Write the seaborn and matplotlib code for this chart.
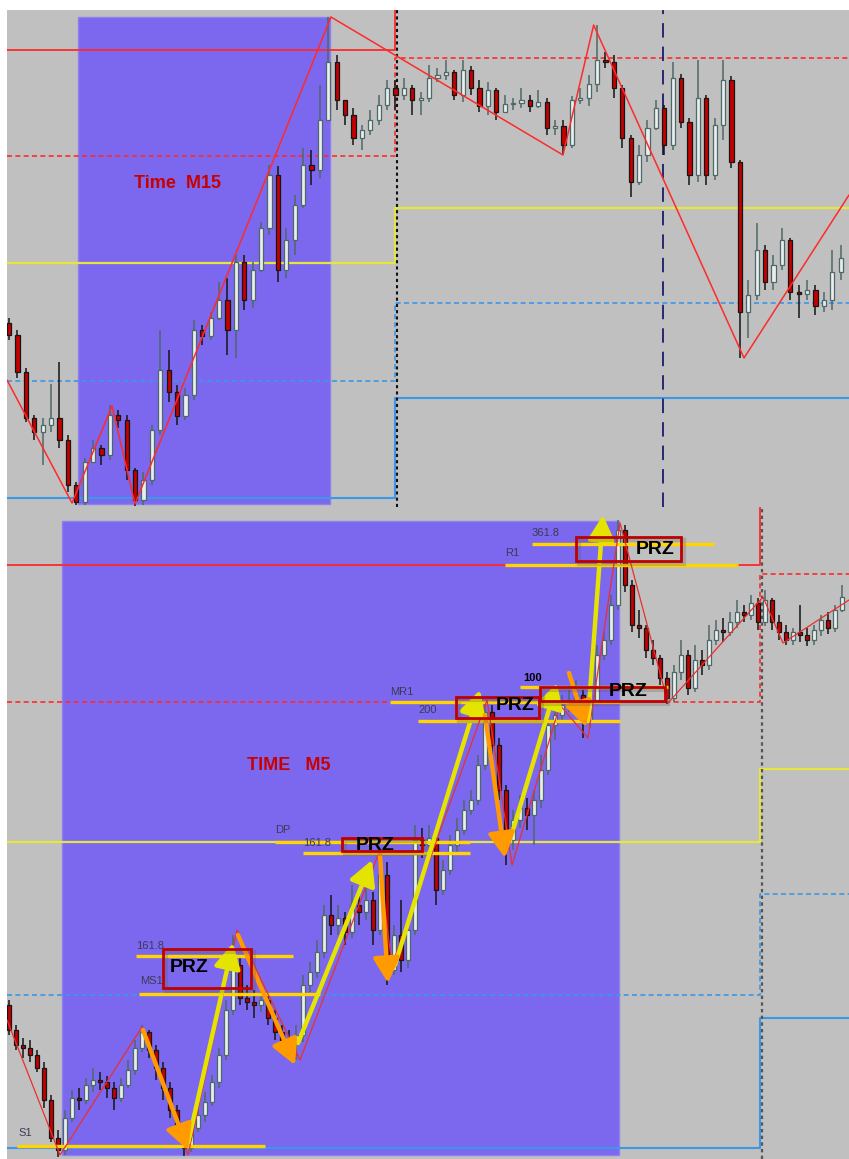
import numpy as np
import pandas as pd
import matplotlib
matplotlib.use("Agg")
import matplotlib.pyplot as plt
from matplotlib.patches import Rectangle
import seaborn as sns

# === COLORS ===
BG = "#c0c0c0"
ZONE = "#7b68ee"
BULL_FILL, BULL_EDGE = "#e9eded", "#4e6868"
BEAR_FILL, BEAR_EDGE = "#c40000", "#151515"
RED = "#ff2a2a"
BLUE = "#3b97ea"
PIVOT_YELLOW = "#e6e640"
FIB_YELLOW = "#ffd400"
ARROW_YELLOW = "#e4e400"
ARROW_ORANGE = "#ff9a00"
BOX_RED = "#c00000"
LABEL = "#3a3a55"

# === TOP PANEL (M15) : candles as (close, high, low), open = previous close ===
top_first_open = 187
top_candles = [
    (175, 192, 170), (138, 180, 132), (92, 142, 88), (78, 95, 70), (85, 92, 45), (92, 126, 78), (70, 148, 62), (25, 75, 18), (8, 28, 5), (48, 52, 5),
    (62, 70, 48), (55, 65, 45), (95, 105, 50), (90, 100, 82), (40, 95, 30), (10, 42, 4), (30, 38, 5), (80, 85, 25), (140, 180, 75), (118, 160, 108),
    (94, 125, 85), (115, 122, 90), (180, 190, 110), (174, 185, 165), (192, 198, 170), (210, 228, 190), (180, 232, 155), (248, 255, 152), (210, 255, 200), (240, 248, 202),
    (282, 288, 238), (335, 345, 275), (240, 344, 228), (270, 282, 232), (305, 315, 255), (345, 362, 302), (340, 360, 325), (390, 425, 332), (448, 493, 390), (410, 455, 400),
    (395, 410, 385), (372, 402, 365), (380, 385, 360), (390, 400, 375), (405, 415, 385), (422, 430, 400), (415, 430, 400), (422, 432, 410), (410, 425, 395), (412, 418, 395),
    (432, 445, 408), (435, 442, 428), (438, 450, 430), (415, 440, 410), (440, 450, 408), (422, 444, 415), (404, 430, 398), (420, 428, 395), (398, 422, 390), (406, 415, 398),
    (407, 412, 400), (410, 422, 402), (404, 415, 398), (408, 420, 402), (382, 412, 375), (384, 390, 375), (365, 390, 355), (410, 414, 362), (412, 422, 406), (426, 435, 404),
    (450, 485, 418), (448, 458, 442), (422, 455, 412), (372, 425, 362), (328, 375, 313), (355, 365, 325), (382, 390, 348), (402, 410, 380), (365, 405, 355), (432, 448, 360),
    (388, 436, 382), (335, 392, 325), (412, 450, 328), (335, 415, 325), (385, 392, 330), (430, 450, 370), (348, 434, 342), (198, 350, 152), (215, 230, 172), (260, 287, 210),
    (228, 265, 220), (245, 255, 220), (270, 282, 240), (218, 272, 210), (216, 225, 192), (220, 230, 210), (204, 225, 195), (210, 218, 198), (238, 260, 200), (252, 265, 230),
]
top_zz_bar = [-0.24, 7.5, 12.26, 15.0, 38.33, 65.95, 69.6, 87.5, 100.0]
top_zz_price = [130, 7, 104, 6, 493, 355, 485, 152, 315]

# pivot levels: previous day (left) / current day (right)
top_level_left = [460.5, 354, 247, 129, 12]
top_level_right = [520, 452, 302, 207, 112]
top_day_break = 45.9
top_zone = (8.21, 38.21, 6, 493)      # bar from, bar to, price low, price high
top_period_sep = 46.19
top_session_sep = 77.86

# === BOTTOM PANEL (M5) ===
bot_first_open = 155
bot_candles = [
    (130, 160, 125), (115, 135, 110), (112, 122, 102), (105, 120, 98), (92, 110, 88), (60, 98, 52), (22, 65, 18), (10, 30, 3), (42, 50, 5), (62, 70, 38),
    (60, 72, 50), (75, 82, 56), (80, 92, 68), (78, 88, 70), (72, 84, 62), (62, 78, 50), (75, 82, 58), (90, 100, 72), (112, 120, 85), (128, 135, 108),
    (110, 130, 102), (92, 115, 80), (72, 98, 60), (50, 78, 42), (32, 55, 22), (12, 35, 4), (32, 40, 8), (45, 60, 28), (58, 68, 38), (78, 85, 54),
    (105, 112, 72), (150, 160, 100), (195, 225, 145), (162, 202, 155), (158, 175, 150), (155, 170, 142), (160, 180, 148), (142, 165, 135), (128, 150, 120), (120, 135, 112),
    (117, 130, 110), (125, 135, 100), (175, 185, 118), (188, 198, 168), (208, 220, 182), (245, 255, 202), (235, 265, 225), (242, 255, 225), (228, 248, 215), (255, 275, 222),
    (248, 270, 235), (260, 280, 240), (230, 268, 215), (285, 302, 225), (190, 298, 175), (225, 235, 185), (200, 260, 188), (230, 240, 192), (320, 335, 225), (315, 332, 302),
    (322, 335, 308), (270, 328, 255), (290, 300, 265), (315, 325, 285), (330, 342, 308), (350, 360, 325), (360, 370, 345), (395, 405, 355), (448, 460, 390), (415, 455, 405),
    (370, 422, 360), (320, 375, 295), (340, 350, 310), (352, 365, 332), (345, 362, 330), (360, 370, 315), (390, 405, 352), (435, 445, 385), (445, 455, 420), (455, 465, 438),
    (460, 470, 448), (465, 480, 452), (440, 470, 422), (460, 470, 432), (505, 515, 455), (520, 528, 500), (555, 565, 515), (630, 640, 550), (575, 635, 568), (535, 580, 528),
    (532, 550, 522), (510, 535, 502), (502, 520, 495), (482, 505, 475), (462, 488, 456), (488, 495, 458), (505, 520, 480), (472, 510, 465), (500, 515, 468), (495, 510, 485),
    (520, 535, 490), (530, 540, 515), (528, 542, 518), (538, 548, 524), (548, 560, 532), (545, 555, 538), (557, 565, 540), (538, 562, 530), (560, 570, 534), (538, 562, 530),
    (528, 545, 520), (520, 535, 515), (528, 532, 515), (525, 555, 518), (520, 532, 514), (530, 535, 515), (540, 545, 524), (532, 548, 526), (550, 555, 528), (563, 575, 548),
]
bot_zz_bar = [-0.29, 7.29, 19.0, 25.57, 32.57, 41.57, 52.71, 54.71, 68.29, 71.86, 78.7, 82.71, 87.29, 94.14, 107.71, 110.57, 120.0]
bot_zz_price = [140, 5, 133, 5, 230, 100, 305, 195, 460, 295, 455, 422, 637, 457, 563, 517, 560]

bot_level_left = [595.5, 458, 318, 165, 12]
bot_level_right = [700, 586, 391, 266, 142]
bot_day_break = 107.3
bot_zone = (7.57, 87.14, 5, 639)
bot_period_sep = 107.57

fib_label = ["361.8", "R1", "100", "MR1", "200", "DP", "161.8", "161.8", "MS1", "S1"]
fib_price = [616.5, 595.5, 473, 458, 439, 318, 307, 204, 166, 14]
fib_from = [74.71, 70.86, 73.0, 54.43, 58.43, 38.0, 42.0, 18.14, 18.57, 1.14]
fib_to = [100.71, 104.14, 94.14, 87.29, 87.29, 65.86, 65.86, 40.57, 44.43, 36.57]
fib_label_bar = [74.71, 70.86, 73.43, 54.43, 58.43, 38.0, 42.0, 18.14, 18.71, 1.29]
fib_label_price = [627, 607, 482, 468, 450, 330, 317, 214, 179, 27]

prz_from = [22.0, 47.57, 63.86, 75.86, 81.0]
prz_to = [34.57, 59.0, 75.71, 93.71, 96.0]
prz_low = [172, 309, 442, 459, 599]
prz_high = [211, 322, 463, 473, 623]
prz_text_bar = [25.71, 52.29, 72.29, 88.43, 92.29]
prz_text_price = [192, 314, 454, 468, 610]

up_from_bar = [25.57, 41.29, 55.14, 71.57, 82.71]
up_from_price = [17, 117, 195, 320, 440]
up_to_bar = [32.0, 51.86, 67.29, 78.29, 84.86]
up_to_price = [217, 300, 470, 477, 645]
down_from_bar = [19.14, 32.71, 53.0, 68.0, 80.0]
down_from_price = [130, 225, 305, 445, 487]
down_to_bar = [25.57, 40.86, 54.14, 70.86, 82.43]
down_to_price = [10, 95, 177, 302, 433]


def to_frame(first_open, rows):
    df = pd.DataFrame(rows, columns=["close", "high", "low"])
    df["open"] = [first_open] + df["close"].tolist()[:-1]
    df["high"] = df[["high", "open", "close"]].max(axis=1)
    df["low"] = df[["low", "open", "close"]].min(axis=1)
    df["bar"] = np.arange(len(df))
    return df


def draw_candles(ax, df, width):
    up = df[df.close >= df.open]
    dn = df[df.close < df.open]
    ax.vlines(up.bar, up.low, up.high, color=BULL_EDGE, lw=1.1, zorder=3)
    ax.vlines(dn.bar, dn.low, dn.high, color=BEAR_EDGE, lw=1.1, zorder=3)
    ax.bar(up.bar, (up.close - up.open).clip(lower=1.5), bottom=up.open, width=width,
           color=BULL_FILL, edgecolor=BULL_EDGE, linewidth=0.9, zorder=3.1)
    ax.bar(dn.bar, (dn.open - dn.close).clip(lower=1.5), bottom=dn.close, width=width,
           color=BEAR_FILL, edgecolor=BEAR_EDGE, linewidth=0.9, zorder=3.1)


def draw_levels(ax, left, right, brk, x0, x1):
    styles = [
        dict(color=RED, lw=1.3, ls="-"),
        dict(color=RED, lw=1.2, ls=(0, (3, 2))),
        dict(color=PIVOT_YELLOW, lw=1.6, ls="-"),
        dict(color=BLUE, lw=1.2, ls=(0, (3, 2))),
        dict(color=BLUE, lw=1.5, ls="-"),
    ]
    for lv_l, lv_r, st in zip(left, right, styles):
        ax.plot([x0, brk, brk, x1], [lv_l, lv_l, lv_r, lv_r], zorder=2, **st)


def style_axis(ax, xlim, ylim):
    ax.set_facecolor(BG)
    ax.set_xlim(*xlim)
    ax.set_ylim(*ylim)
    ax.set_xticks([])
    ax.set_yticks([])
    for s in ax.spines.values():
        s.set_visible(False)


sns.set_style("white")
plt.rcParams["font.family"] = ["Liberation Sans", "DejaVu Sans"]

W, H = 849, 1159
fig = plt.figure(figsize=(W / 100, H / 100), dpi=100, facecolor="white")
ax_top = fig.add_axes([7 / W, (H - 507) / H, 842 / W, 497 / H])
ax_bot = fig.add_axes([7 / W, 0, 842 / W, 652 / H])

# === TOP PANEL ===
top = to_frame(top_first_open, top_candles)
TOP_X = (-0.24, 100.0)
style_axis(ax_top, TOP_X, (3, 500))
z0, z1, zl, zh = top_zone
ax_top.add_patch(Rectangle((z0, zl), z1 - z0, zh - zl, facecolor=ZONE,
                           edgecolor="#8d80f0", lw=1, zorder=0.5))
draw_levels(ax_top, top_level_left, top_level_right, top_day_break, *TOP_X)
ax_top.axvline(top_period_sep, color="#111111", lw=1.5, ls=(0, (1.5, 1.5)), zorder=2.5)
ax_top.axvline(top_session_sep, color="#1c1c6a", lw=1.3, ls=(0, (8, 5)), zorder=2.5)
draw_candles(ax_top, top, 0.5)
sns.lineplot(x=top_zz_bar, y=top_zz_price, ax=ax_top, sort=False, estimator=None,
             color=RED, linewidth=1.1, zorder=5)
ax_top.text(20, 327, "Time  M15", color="#c80000", fontsize=13, fontweight="bold",
            ha="center", va="center", zorder=8)

# === BOTTOM PANEL ===
bot = to_frame(bot_first_open, bot_candles)
BOT_X = (-0.29, 120.0)
style_axis(ax_bot, BOT_X, (1, 653))
z0, z1, zl, zh = bot_zone
ax_bot.add_patch(Rectangle((z0, zl), z1 - z0, zh - zl, facecolor=ZONE,
                           edgecolor="#8d80f0", lw=1, zorder=0.5))
draw_levels(ax_bot, bot_level_left, bot_level_right, bot_day_break, *BOT_X)
ax_bot.axvline(bot_period_sep, color="#555555", lw=1.6, ls=(0, (1.5, 1.5)), zorder=2.5)
draw_candles(ax_bot, bot, 0.55)
sns.lineplot(x=bot_zz_bar, y=bot_zz_price, ax=ax_bot, sort=False, estimator=None,
             color="#e83030", linewidth=0.9, zorder=5)

# fibonacci / pivot segments with labels
for lab, p, a, b, lb, lp in zip(fib_label, fib_price, fib_from, fib_to, fib_label_bar, fib_label_price):
    ax_bot.plot([a, b], [p, p], color=FIB_YELLOW, lw=2.4, zorder=4, solid_capstyle="butt")
    bold = lab == "100"
    ax_bot.text(lb, lp, lab, color="black" if bold else LABEL, fontsize=8,
                fontweight="bold" if bold else "normal", ha="left", va="center", zorder=8)

# arrows
for xa, ya, xb, yb in zip(up_from_bar, up_from_price, up_to_bar, up_to_price):
    ax_bot.annotate("", xy=(xb, yb), xytext=(xa, ya), zorder=6,
                    arrowprops=dict(arrowstyle="-|>,head_length=0.75,head_width=0.4",
                                    color=ARROW_YELLOW, lw=3.2, mutation_scale=20,
                                    shrinkA=0, shrinkB=0))
for xa, ya, xb, yb in zip(down_from_bar, down_from_price, down_to_bar, down_to_price):
    ax_bot.annotate("", xy=(xb, yb), xytext=(xa, ya), zorder=6,
                    arrowprops=dict(arrowstyle="-|>,head_length=0.75,head_width=0.4",
                                    color=ARROW_ORANGE, lw=3.2, mutation_scale=20,
                                    shrinkA=0, shrinkB=0))

# PRZ boxes
for a, b, lo, hi, tb, tp in zip(prz_from, prz_to, prz_low, prz_high, prz_text_bar, prz_text_price):
    ax_bot.add_patch(Rectangle((a + 0.45, lo - 3), b - a, hi - lo, fill=False,
                               edgecolor="#555555", lw=3, alpha=0.25, zorder=6.5))
    ax_bot.add_patch(Rectangle((a, lo), b - a, hi - lo, fill=False,
                               edgecolor=BOX_RED, lw=2, zorder=7))
    ax_bot.text(tb, tp, "PRZ", color="black", fontsize=14, fontweight="bold",
                ha="center", va="center", zorder=8)

ax_bot.text(40, 394, "TIME   M5", color="#c80000", fontsize=13, fontweight="bold",
            ha="center", va="center", zorder=8)

plt.savefig("out.png", dpi=100, facecolor="white")
plt.close()
